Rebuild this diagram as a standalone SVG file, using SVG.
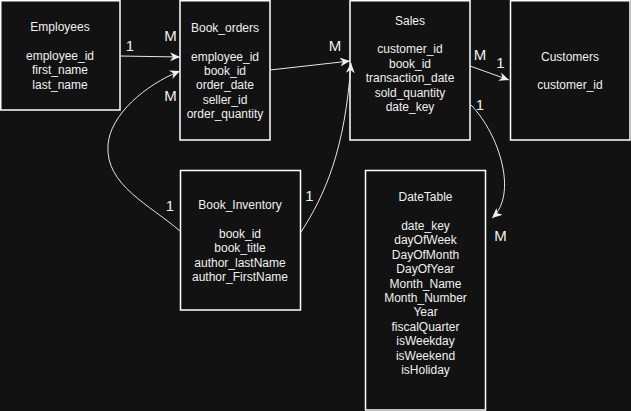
<svg xmlns="http://www.w3.org/2000/svg" width="631" height="411" viewBox="0 0 631 411">
<style>
.box{fill:#121212;stroke:#ffffff;stroke-width:1.5}
.t{font-family:"Liberation Sans",Arial,Helvetica,sans-serif;font-size:12px;fill:#f0f0f0;text-anchor:middle}
.lbl{font-family:"Liberation Sans",Arial,Helvetica,sans-serif;font-size:15px;fill:#f0f0f0;text-anchor:middle}
.edge{fill:none;stroke:#e8e8e8;stroke-width:1}
</style>
<defs>
<marker id="arr" viewBox="0 0 10 10" refX="10" refY="5" markerWidth="10" markerHeight="10" orient="auto" markerUnits="userSpaceOnUse">
<path d="M0,0.5 L10,5 L0,9.5 L3,5 Z" fill="#f0f0f0"/>
</marker>
</defs>
<rect x="0" y="0" width="631" height="411" fill="#121212"/>
<g id="employees">
<rect class="box" x="0.75" y="0.75" width="119.25" height="109.25"/>
<text class="t" x="60" y="31.1">Employees</text>
<text class="t" x="60" y="59.9">employee_id</text>
<text class="t" x="60" y="74.3">first_name</text>
<text class="t" x="60" y="88.7">last_name</text>
</g>
<g id="book_orders">
<rect class="box" x="180" y="0.75" width="90" height="139.25"/>
<text class="t" x="225" y="31.7">Book_orders</text>
<text class="t" x="225" y="60.5">employee_id</text>
<text class="t" x="225" y="74.9">book_id</text>
<text class="t" x="225" y="89.3">order_date</text>
<text class="t" x="225" y="103.7">seller_id</text>
<text class="t" x="225" y="118.1">order_quantity</text>
</g>
<g id="sales">
<rect class="box" x="350" y="0.75" width="120" height="139.25"/>
<text class="t" x="410" y="24.5">Sales</text>
<text class="t" x="410" y="53.3">customer_id</text>
<text class="t" x="410" y="67.7">book_id</text>
<text class="t" x="410" y="82.1">transaction_date</text>
<text class="t" x="410" y="96.5">sold_quantity</text>
<text class="t" x="410" y="110.9">date_key</text>
</g>
<g id="customers">
<rect class="box" x="510.5" y="0.75" width="119.5" height="139.25"/>
<text class="t" x="570" y="60.5">Customers</text>
<text class="t" x="570" y="89.3">customer_id</text>
</g>
<g id="book_inventory">
<rect class="box" x="180.5" y="170.5" width="120" height="139.5"/>
<text class="t" x="240" y="208.9">Book_Inventory</text>
<text class="t" x="240" y="237.7">book_id</text>
<text class="t" x="240" y="252.1">book_title</text>
<text class="t" x="240" y="266.5">author_lastName</text>
<text class="t" x="240" y="280.9">author_FirstName</text>
</g>
<g id="datetable">
<rect class="box" x="365.5" y="170.5" width="120" height="239.5"/>
<text class="t" x="425.5" y="201.1">DateTable</text>
<text class="t" x="425.5" y="229.9">date_key</text>
<text class="t" x="425.5" y="244.3">dayOfWeek</text>
<text class="t" x="425.5" y="258.7">DayOfMonth</text>
<text class="t" x="425.5" y="273.1">DayOfYear</text>
<text class="t" x="425.5" y="287.5">Month_Name</text>
<text class="t" x="425.5" y="301.9">Month_Number</text>
<text class="t" x="425.5" y="316.3">Year</text>
<text class="t" x="425.5" y="330.7">fiscalQuarter</text>
<text class="t" x="425.5" y="345.1">isWeekday</text>
<text class="t" x="425.5" y="359.5">isWeekend</text>
<text class="t" x="425.5" y="373.9">isHoliday</text>
</g>
<g id="connectors">
<path class="edge" d="M120,56 L180,57" marker-end="url(#arr)"/>
<path class="edge" d="M180,231 C150,205 105,185 108,145 C110,115 145,85 180,71" marker-end="url(#arr)"/>
<path class="edge" d="M270,70 L350,61" marker-end="url(#arr)"/>
<path class="edge" d="M301,232 C325,195 345,150 351,63" marker-end="url(#arr)"/>
<path class="edge" d="M470,66 L509,80" marker-end="url(#arr)"/>
<path class="edge" d="M471,105 C500,135 518,195 492,218" marker-end="url(#arr)"/>
<text class="lbl" x="130" y="50.7">1</text>
<text class="lbl" x="170.5" y="40.7">M</text>
<text class="lbl" x="170.5" y="101">M</text>
<text class="lbl" x="335" y="50.7">M</text>
<text class="lbl" x="480" y="60">M</text>
<text class="lbl" x="500.5" y="68">1</text>
<text class="lbl" x="480" y="110">1</text>
<text class="lbl" x="170" y="211">1</text>
<text class="lbl" x="309.5" y="201">1</text>
<text class="lbl" x="500.5" y="240.7">M</text>
</g>
</svg>
